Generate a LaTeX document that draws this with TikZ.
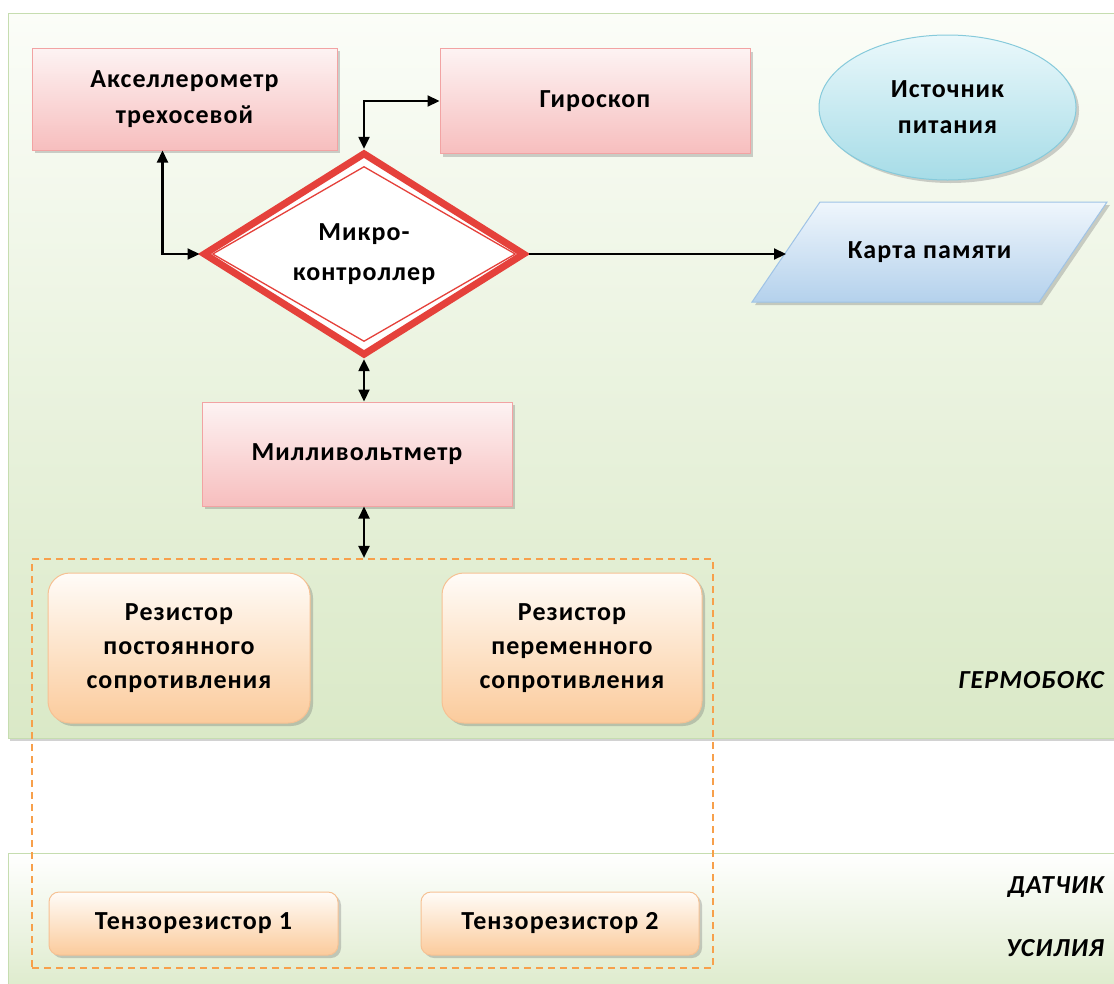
\documentclass[tikz,border=0pt]{standalone}
\usepackage{fontspec}
\setmainfont{Carlito}[LetterSpace=4]
\usetikzlibrary{shapes.geometric,shadows,arrows.meta}
\definecolor{gtop}{HTML}{FBFDF8}
\definecolor{gbot}{HTML}{DAE9C7}
\definecolor{gedge}{HTML}{C6DDB0}
\definecolor{ptop}{HTML}{FDF3F3}
\definecolor{pbot}{HTML}{F7BEBE}
\definecolor{pedge}{HTML}{F2A3A3}
\definecolor{otop}{HTML}{FFFCF8}
\definecolor{obot}{HTML}{FBCB9C}
\definecolor{oedge}{HTML}{F6C193}
\definecolor{dashor}{HTML}{F7A04B}
\definecolor{dred}{HTML}{E5413B}
\definecolor{etop}{HTML}{EAF8FB}
\definecolor{ebot}{HTML}{A6DCE7}
\definecolor{eedge}{HTML}{86CADB}
\definecolor{btop}{HTML}{EFF6FC}
\definecolor{bbot}{HTML}{B4D1EC}
\definecolor{bedge}{HTML}{9FC3E6}
\begin{document}
\begin{tikzpicture}[x=1pt,y=-1pt,
  font=\bfseries\fontsize{26}{36}\selectfont,
  panel/.style={rectangle, draw=gedge, line width=1pt, inner sep=0pt},
  shad/.style={drop shadow={shadow xshift=3pt, shadow yshift=-3pt, opacity=0.3, fill=black!60}},
  pinkbox/.style={rectangle, draw=pedge, line width=1pt, top color=ptop, bottom color=pbot, align=center, inner sep=0pt, shad},
  orbox/.style={rectangle, rounded corners=#1, draw=oedge, line width=1pt, top color=otop, bottom color=obot, align=center, inner sep=0pt, shad},
  conn/.style={line width=2.2pt, black},
  tip/.style={-{Triangle[length=12pt,width=11pt]}},
  tips/.style={{Triangle[length=12pt,width=11pt]}-{Triangle[length=12pt,width=11pt]}},
  lab/.style={font=\bfseries\itshape\fontsize{26}{30}\selectfont, inner sep=0pt}
]
\useasboundingbox (0,0) rectangle (1114,983);
\fill[white] (0,0) rectangle (1114,983);

% panels
\node[panel, top color=gtop, bottom color=gbot, minimum width=1120pt, minimum height=725pt,
  drop shadow={shadow xshift=2pt, shadow yshift=-3pt, opacity=0.35, fill=black!50}] (herm) at (568,375.5) {};
\node[panel, top color=white, bottom color=gbot, minimum width=1120pt, minimum height=150pt] (dat) at (568,928) {};

% labels
\node[lab, anchor=base east] (lherm) at (1104,688) {ГЕРМОБОКС};
\node[lab, anchor=base east] (ldat1) at (1104,893) {ДАТЧИК};
\node[lab, anchor=base east] (ldat2) at (1104,956) {УСИЛИЯ};

% dashed group
\node[draw=dashor, line width=2.2pt, dash pattern=on 7pt off 5pt, minimum width=681pt, minimum height=409pt, inner sep=0pt] (grp) at (372.5,763.5) {};

% top nodes
\node[pinkbox, minimum width=305pt, minimum height=102pt] (acc) at (184.5,99) {Акселлерометр\\трехосевой};
\node[pinkbox, minimum width=310pt, minimum height=105pt] (gyr) at (595,101) {Гироскоп};
\node[ellipse, draw=eedge, line width=1pt, top color=etop, bottom color=ebot, minimum width=257pt, minimum height=145pt, align=center, inner sep=0pt, shad] (pwr) at (947.5,107.5) {Источник\\питания};

% memory card (parallelogram)
\shade[top color=btop, bottom color=bbot, draw=bedge, line width=1pt, shad]
  (752,302) -- (820,202) -- (1107,202) -- (1039,302) -- cycle;
\coordinate (memw) at (786,252);
\node (mem) at (929.5,252) {Карта памяти};

% diamond
\node[diamond, draw=dred, line width=7pt, fill=white, minimum width=322pt, minimum height=186pt, inner sep=0pt, align=center] (dia) at (364,254) {Микро-\\[4pt]контроллер};
\node[diamond, draw=dred, line width=1.3pt, minimum width=303pt, minimum height=175pt, inner sep=0pt] (diin) at (dia.center) {};

\node[pinkbox, minimum width=310pt, minimum height=104pt] (mv) at (357,454) {Милливольтметр};

% resistors
\node[orbox=22pt, minimum width=262pt, minimum height=150pt, font=\bfseries\fontsize{26}{34}\selectfont] (r1) at (179,648) {Резистор\\постоянного\\сопротивления};
\node[orbox=22pt, minimum width=260pt, minimum height=150pt, font=\bfseries\fontsize{26}{34}\selectfont] (r2) at (572,648) {Резистор\\переменного\\сопротивления};
\node[orbox=10pt, minimum width=289pt, minimum height=63pt] (t1) at (193.5,923.5) {Тензорезистор 1};
\node[orbox=10pt, minimum width=278pt, minimum height=63pt] (t2) at (560,923.5) {Тензорезистор 2};

% connectors
\draw[conn, tips] ([xshift=-22pt]acc.south) |- (dia.west);
\draw[conn, tips] (dia.north) |- (gyr.west);
\draw[conn, tip] (dia.east) -- (dia.east -| memw);
\draw[conn, tips] (dia.south) -- (dia.south |- mv.north);
\draw[conn, tips] (dia.south |- mv.south) -- (dia.south |- grp.north);
\end{tikzpicture}
\end{document}
